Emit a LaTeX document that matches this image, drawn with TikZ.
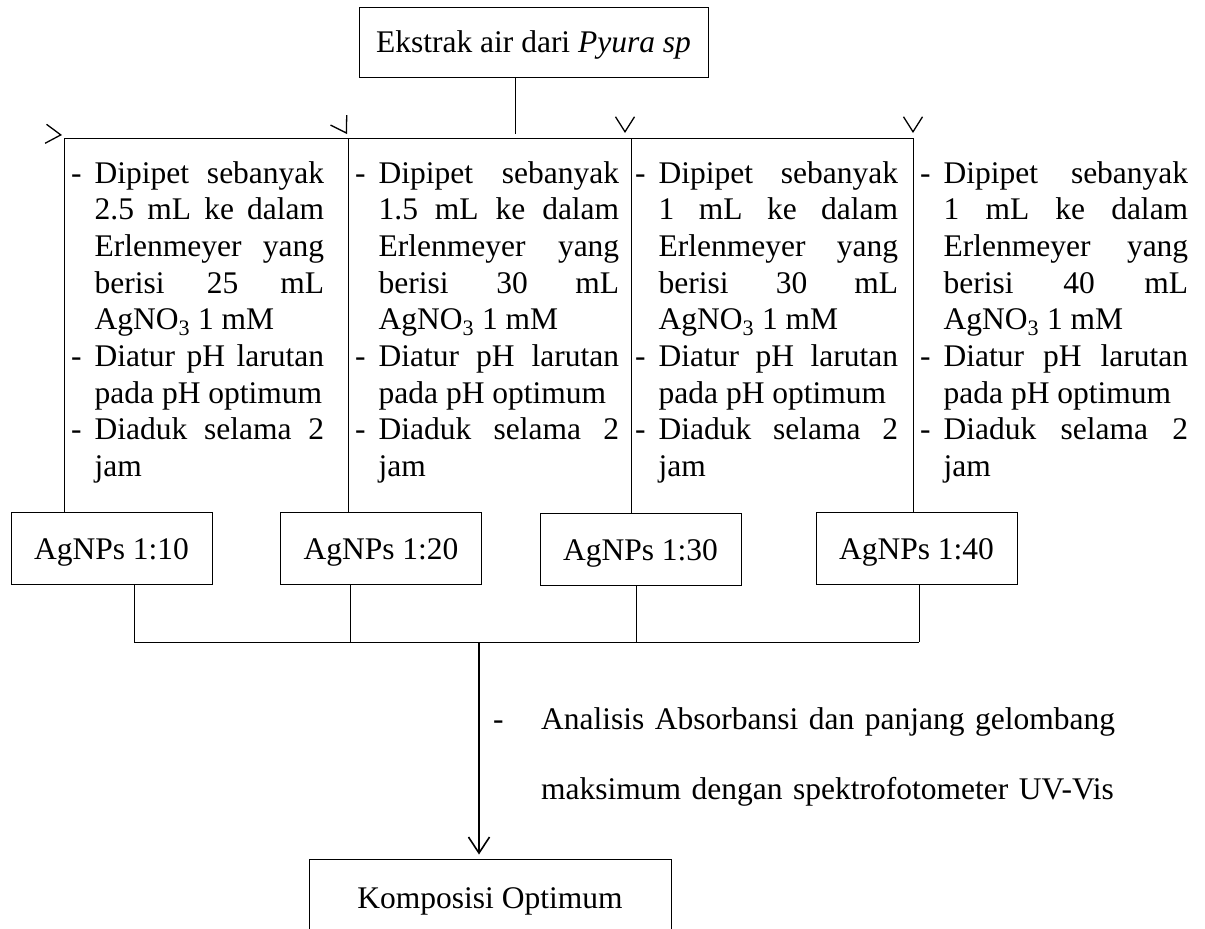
\documentclass[tikz,border=0pt]{standalone}
\usepackage{fontspec}
\setmainfont{Liberation Serif}
\usepackage{tikz}
\usetikzlibrary{arrows.meta, calc}
\newcommand{\teks}{\fontsize{31.5pt}{36.7pt}\selectfont}
\newcommand{\awal}{\noindent\hangindent=23.5pt\hangafter=1\makebox[23.5pt][l]{-}}
\newcommand{\butir}{\par\awal}
\newcommand{\langkah}[2]{%
  \awal Dipipet sebanyak\linebreak #1 mL ke dalam\linebreak Erlenmeyer yang\linebreak berisi #2 mL\linebreak AgNO\textsubscript{3} 1 mM
  \butir Diatur pH larutan\linebreak pada pH optimum
  \butir Diaduk selama 2\linebreak jam\par}

\begin{document}
\begin{tikzpicture}[
  x=1pt, y=-1pt,
  line cap=butt, line join=miter,
  kotak/.style={draw, line width=1pt, inner sep=0pt, font=\teks,
    minimum width=201pt, minimum height=72pt},
  sampel/.style={kotak, text height=28pt, text depth=6pt},
  kolom/.style={inner sep=0pt, anchor=base west, align=justify, font=\teks,
    execute at begin node={\hyphenpenalty=10000\tolerance=10000\hbadness=10000}},
  garis/.style={line width=1pt},
  tanda/.style={line width=1.3pt, -{Straight Barb[length=15pt, width=19pt]}},
  panah/.style={line width=1.6pt, -{Straight Barb[length=16pt, width=21pt]}},
  ket/.style={inner sep=0pt, anchor=base west, font=\teks},
]
\useasboundingbox (0,0) rectangle (1205,929);
\clip (0,0) rectangle (1205,929);

\node[kotak, minimum width=349pt, minimum height=70pt, text height=27pt, text depth=6pt] (ekstrak) at (533.5,42) {Ekstrak air dari \textit{Pyura sp}\hspace{12pt}};

% top split
\coordinate (pisah) at (515,134);
\draw[garis] (pisah |- ekstrak.south) -- (pisah);
\coordinate (p1) at (64,138);
\coordinate (p2) at (348,138);
\coordinate (p3) at (631,138);
\coordinate (p4) at (913,138);
\draw[garis] (p1) -- (p4);

% marks at the column heads
\coordinate (m1) at (62,135);
\coordinate (m2) at (347,134);
\coordinate (m3) at (625,133);
\coordinate (m4) at (913,133);
\draw[tanda] ($(m1)+(-2,-0.15)$) -- (m1);
\draw[tanda] ($(m2)+(-1,-1.65)$) -- (m2);
\draw[tanda] ($(m3)+(0,-2)$) -- (m3);
\draw[tanda] ($(m4)+(0,-2)$) -- (m4);

% four columns
\node[kolom, text width=253pt] (k1) at (71,183) {\langkah{2.5}{25}};
\node[kolom, text width=264pt] (k2) at (355,183) {\langkah{1.5}{30}};
\node[kolom, text width=263pt] (k3) at (635,183) {\langkah{1}{30}};
\node[kolom, text width=268pt] (k4) at (920,183) {\langkah{1}{40}};

% AgNPs boxes
\node[sampel] (s10) at (111.5,548.5) {AgNPs 1:10};
\node[sampel] (s20) at (381,548) {AgNPs 1:20};
\node[sampel] (s30) at (640.5,549) {AgNPs 1:30};
\node[sampel] (s40) at (916.5,548) {AgNPs 1:40};
\draw[garis] (p1) -- (p1 |- s10.north);
\draw[garis] (p2) -- (p2 |- s20.north);
\draw[garis] (p3) -- (p3 |- s30.north);
\draw[garis] (p4) -- (p4 |- s40.north);

% collecting bus
\coordinate (q1) at (134,642);
\coordinate (q2) at (350,642);
\coordinate (q3) at (636,642);
\coordinate (q4) at (919,642);
\coordinate (q0) at (479,642);
\draw[garis] (q1 |- s10.south) -- (q1);
\draw[garis] (q2 |- s20.south) -- (q2);
\draw[garis] (q3 |- s30.south) -- (q3);
\draw[garis] (q4 |- s40.south) -- (q4);
\draw[garis] (q1) -- (q4);

% analysis
\node[kotak, minimum width=362pt, minimum height=84pt] (hasil) at (490,901) {Komposisi Optimum};
\draw[panah, shorten >=4pt] (q0) -- (q0 |- hasil.north);
\node[ket] (strip) at (493,729) {-};
\node[ket, text width=640pt, align=left, font=\fontsize{31.5pt}{70pt}\selectfont] (analisis) at (541,729)
  {Analisis Absorbansi dan panjang gelombang\\maksimum dengan spektrofotometer UV-Vis};
\end{tikzpicture}
\end{document}
